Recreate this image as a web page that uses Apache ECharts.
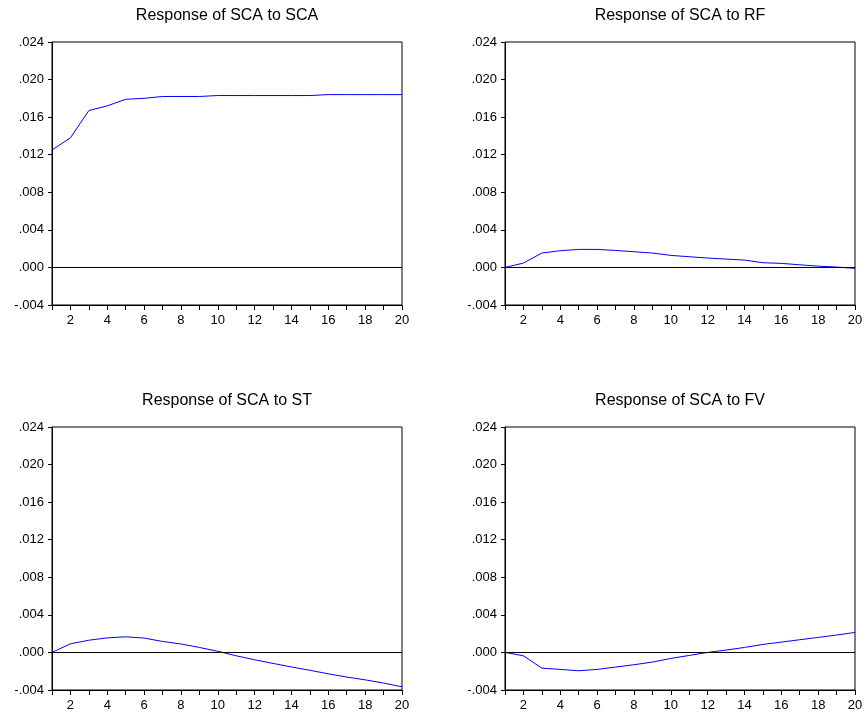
<!DOCTYPE html>
<html>
<head>
<meta charset="utf-8">
<script src="https://cdn.jsdelivr.net/npm/echarts@6/dist/echarts.min.js"></script>
<style>
html,body{margin:0;padding:0;background:#fff;}
#c{width:866px;height:715px;}
</style>
</head>
<body>
<div id="c"></div>
<script>
// Periods 1..20
var periods = [1,2,3,4,5,6,7,8,9,10,11,12,13,14,15,16,17,18,19,20];
var titles = ["Response of SCA to SCA","Response of SCA to RF","Response of SCA to ST","Response of SCA to FV"];
var scaToSca = [0.0125,0.0138,0.0167,0.0172,0.0179,0.0180,0.0182,0.0182,0.0182,0.0183,0.0183,0.0183,0.0183,0.0183,0.0183,0.0184,0.0184,0.0184,0.0184,0.0184];
var scaToRf = [0.0000,0.00046,0.00153,0.00178,0.00192,0.00192,0.00181,0.00167,0.00153,0.00128,0.00114,0.00100,0.00089,0.00078,0.00050,0.00043,0.00028,0.00014,0.00004,-0.00010];
var scaToSt = [0.0000,0.00092,0.00130,0.00155,0.00166,0.00153,0.00117,0.00090,0.00053,0.00012,-0.00036,-0.00078,-0.00117,-0.00155,-0.00190,-0.00228,-0.00262,-0.00292,-0.00326,-0.00366];
var scaToFv = [0.0000,-0.00036,-0.00167,-0.00181,-0.00195,-0.00181,-0.00156,-0.00131,-0.00103,-0.00064,-0.00032,0.0000,0.00025,0.00053,0.00085,0.00110,0.00135,0.00160,0.00185,0.00213];
var yTicks = [-0.004,0.000,0.004,0.008,0.012,0.016,0.020,0.024];

var seriesData = [scaToSca, scaToRf, scaToSt, scaToFv];
var font = '"Liberation Sans", Arial, sans-serif';

var boxes = [
  {left:52, top:42, width:350, height:263},
  {left:505, top:42, width:350, height:263},
  {left:52, top:427, width:350, height:263},
  {left:505, top:427, width:350, height:263}
];
var titleTops = [8, 8, 393, 393];

function fmtY(v){
  var s = Math.abs(v) < 1e-12 ? "0.000" : v.toFixed(3);
  return s.replace(/^(-?)0\./, "$1.");
}

var option = {
  animation:false,
  backgroundColor:'#ffffff',
  title:[], grid:[], xAxis:[], yAxis:[], series:[]
};

for (var i=0;i<4;i++){
  var b = boxes[i];
  option.title.push({
    text:titles[i], left:b.left + b.width/2, top:titleTops[i], textAlign:'center', padding:0,
    textStyle:{fontFamily:font, fontSize:16, fontWeight:'normal', color:'#000'}
  });
  option.grid.push({left:b.left, top:b.top, width:b.width, height:b.height,
    show:true, borderColor:'#000', borderWidth:1, backgroundColor:'transparent', containLabel:false});
  option.xAxis.push({
    type:'value', gridIndex:i, min:periods[0], max:periods[periods.length-1], interval:1,
    axisLine:{show:true, onZero:false, lineStyle:{color:'#000', width:1}},
    axisTick:{show:true, inside:false, length:5, lineStyle:{color:'#000'}},
    splitLine:{show:false},
    axisLabel:{margin:9, fontFamily:font, fontSize:13, color:'#000',
      formatter:function(v){ return (v % 2 === 0) ? String(v) : ''; }}
  });
  option.yAxis.push({
    type:'value', gridIndex:i, min:yTicks[0], max:yTicks[yTicks.length-1], interval:0.004,
    axisLine:{show:true, lineStyle:{color:'#000', width:1}},
    axisTick:{show:true, inside:false, length:4, lineStyle:{color:'#000'}},
    splitLine:{show:false},
    axisLabel:{margin:8, fontFamily:font, fontSize:13, color:'#000', formatter:fmtY}
  });
  var pts = periods.map(function(p,k){ return [p, seriesData[i][k]]; });
  option.series.push({
    type:'line', xAxisIndex:i, yAxisIndex:i, data:pts, showSymbol:false, symbol:'none',
    lineStyle:{color:'#0000ff', width:1}, itemStyle:{color:'#0000ff'},
    markLine:{silent:true, symbol:['none','none'], label:{show:false},
      lineStyle:{color:'#000', width:1, type:'solid'}, data:[{yAxis:0}]}
  });
}

var chart = echarts.init(document.getElementById('c'), null, {renderer:'canvas'});
chart.setOption(option);
</script>
</body>
</html>
